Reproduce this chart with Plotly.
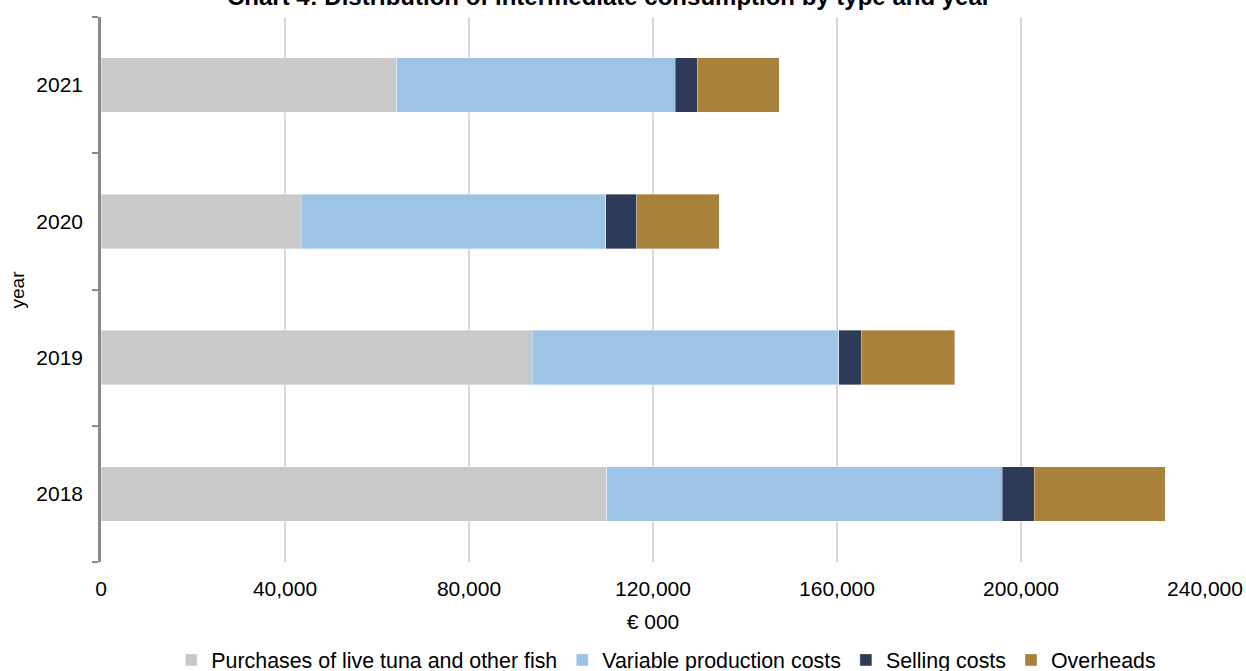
import plotly.graph_objects as go

# Intermediate consumption by cost type, € 000
years = ["2018", "2019", "2020", "2021"]
purchases = [109900, 93700, 43500, 64300]
variable_costs = [86000, 66700, 66200, 60500]
selling_costs = [7000, 4900, 6800, 4800]
overheads = [28500, 20300, 17900, 17800]

series = [
    ("Purchases of live tuna and other fish", purchases, "#C9C9C9"),
    ("Variable production costs", variable_costs, "#9DC3E6"),
    ("Selling costs", selling_costs, "#2E3B58"),
    ("Overheads", overheads, "#A9813B"),
]

FONT = "Liberation Sans, Arial, sans-serif"

fig = go.Figure()
for name, values, color in series:
    fig.add_trace(go.Bar(
        y=years, x=values, name=name, orientation="h",
        marker=dict(color=color, line=dict(color="rgba(255,255,255,0.6)", width=0.6)),
    ))

fig.update_layout(
    barmode="stack",
    bargap=0.6,
    width=1246, height=671,
    margin=dict(l=101, r=41, t=17, b=109, autoexpand=False),
    plot_bgcolor="white", paper_bgcolor="white",
    font=dict(family=FONT, size=21, color="#000000"),
    showlegend=True,
    legend=dict(
        orientation="h", x=0.512, xanchor="center",
        yref="container", y=0.0164, yanchor="middle",
        font=dict(size=21.4), traceorder="normal",
    ),
    xaxis=dict(
        range=[0, 240000], tickvals=[0, 40000, 80000, 120000, 160000, 200000, 240000],
        tickformat=",", showgrid=True, gridcolor="#D9D9D9", gridwidth=1.5,
        zeroline=False, showline=False, ticks="", ticklabelstandoff=12,
        title=dict(text="€ 000", font=dict(size=21)),
        tickfont=dict(size=21),
    ),
    yaxis=dict(
        type="category", categoryorder="array", categoryarray=years,
        showline=True, linecolor="#898989", linewidth=2.5,
        ticks="outside", tickson="boundaries", ticklen=6, tickwidth=2, tickcolor="#898989",
        ticklabelstandoff=11,
        showgrid=False, zeroline=False,
        tickfont=dict(size=21),
    ),
    annotations=[
        dict(
            text="<b>Chart 4: Distribution of intermediate consumption by type and year</b>",
            xref="paper", yref="paper", x=0.4601, y=1.0367, xanchor="center", yanchor="middle",
            showarrow=False, font=dict(family=FONT, size=24, color="#000000"),
        ),
        # y-axis title
        dict(
            text="year", textangle=-90,
            xref="paper", yref="paper", x=-0.0752, y=0.5, xanchor="center", yanchor="middle",
            showarrow=False, font=dict(family=FONT, size=19, color="#000000"),
        ),
    ],
)

fig.write_html("out.html")
